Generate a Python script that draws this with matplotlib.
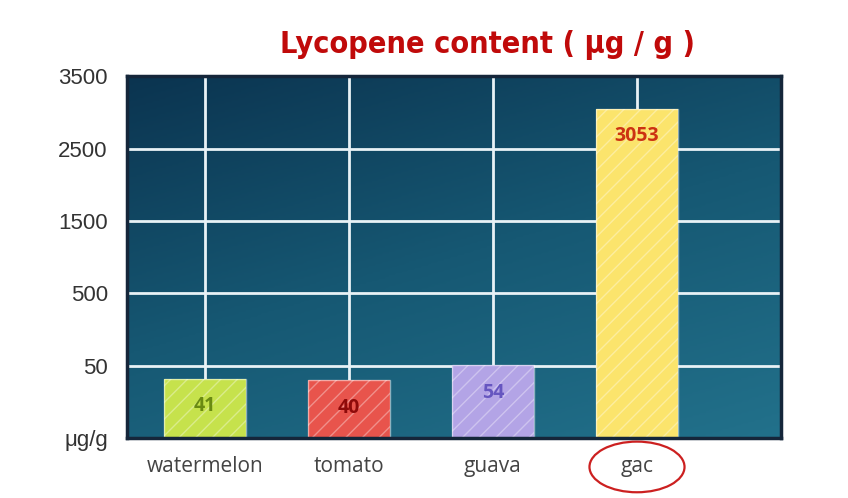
import numpy as np
import matplotlib
matplotlib.use("Agg")
import matplotlib.pyplot as plt
import matplotlib.colors as mcolors
from matplotlib.patches import Ellipse
from matplotlib.transforms import blended_transform_factory

fruits = ["watermelon", "tomato", "guava", "gac"]
lycopene = [41, 40, 54, 3053]
bar_colors = ["#c6e24c", "#e8544c", "#b3a4e6", "#fbe46c"]
value_colors = ["#6a8a12", "#8e0a0a", "#6656c0", "#cc3212"]

# the y axis is not linear: each gridline is one step
y_breaks = [0, 50, 500, 1500, 2500, 3500]
y_labels = ["μg/g", "50", "500", "1500", "2500", "3500"]


def fwd(v):
    return np.interp(v, y_breaks, np.arange(len(y_breaks)))


def inv(v):
    return np.interp(v, np.arange(len(y_breaks)), y_breaks)


plt.rcParams["font.family"] = ["Open Sans", "DejaVu Sans"]

fig = plt.figure(figsize=(8.48, 4.98), dpi=100)
ax = fig.add_axes([0.150, 0.1205, 0.771, 0.7265])

# dark navy top fading to teal at the bottom
gx, gy = np.meshgrid(np.linspace(0, 1, 200), np.linspace(0, 1, 200))
grad = 0.65 * (1 - gy) + 0.35 * gx
cmap = mcolors.LinearSegmentedColormap.from_list("bg", ["#0b3450", "#165873", "#22718b"])
ax.imshow(grad, cmap=cmap, extent=[0, 1, 0, 1], transform=ax.transAxes,
          aspect="auto", origin="lower", zorder=0)

ax.set_yscale("function", functions=(fwd, inv))
ax.set_ylim(0, 3500)
ax.set_xlim(-0.54, 4.0)
ax.set_yticks(y_breaks)
ax.set_yticklabels(y_labels, family=["Liberation Sans", "DejaVu Sans"], fontsize=16)
ax.set_xticks(range(len(fruits)))
ax.set_xticklabels(fruits, fontsize=15)

ax.grid(True, color="#e8f2f6", linewidth=2, zorder=1)
ax.tick_params(length=0, colors="#333333")
ax.tick_params(axis="y", pad=14)
ax.tick_params(axis="x", pad=13, labelcolor="#444444")
for s in ax.spines.values():
    s.set_color("#15263a")
    s.set_linewidth(2.5)
    s.set_zorder(5)

x = np.arange(len(fruits))
ax.bar(x, lycopene, width=0.57, color=bar_colors, edgecolor="none", zorder=2)
ax.bar(x, lycopene, width=0.57, facecolor="none", edgecolor=(1, 1, 1, 0.35),
       hatch="//", linewidth=0, zorder=3)
ax.bar(x, lycopene, width=0.57, facecolor="none", edgecolor=(1, 1, 1, 0.5),
       linewidth=1, zorder=3)

for xi, v, c in zip(x, lycopene, value_colors):
    ax.annotate(str(v), (xi, v), xytext=(0, -20), textcoords="offset points",
                ha="center", va="center", fontsize=14, fontweight="bold",
                color=c, zorder=4)

# red ring around "gac"
tr = blended_transform_factory(ax.transData, ax.transAxes)
ax.add_patch(Ellipse((3, -0.08), 0.66, 0.14, transform=tr, fill=False,
                     edgecolor="#cc2020", linewidth=1.6, clip_on=False))

fig.text(0.575, 0.91, "Lycopene content ( μg / g )", ha="center", va="center",
         fontsize=22, fontweight="bold", color="#c00a0a",
         family=["Liberation Sans Narrow", "DejaVu Sans"], fontstretch="condensed")

fig.savefig("out.png", dpi=100, facecolor="white")
